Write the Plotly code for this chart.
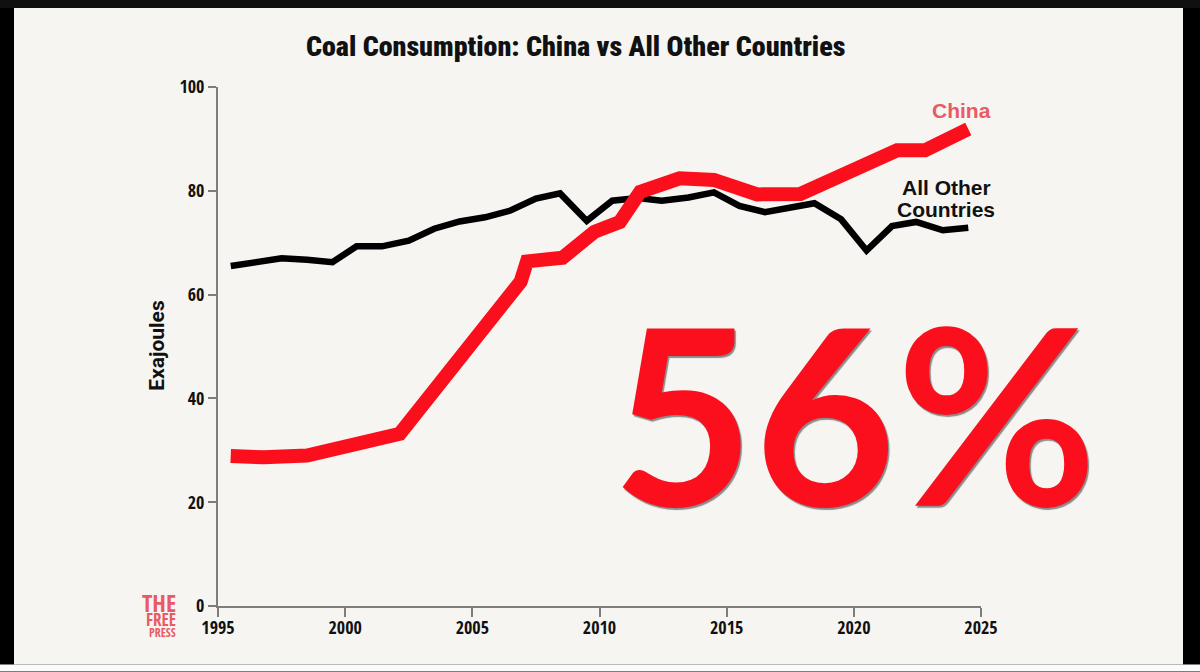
import plotly.graph_objects as go

W = 1200
H = 672
L, R, T, B = 218, 981, 87, 606.5

# values (exajoules)
other_years = [1995.5, 1996.5, 1997.5, 1998.5, 1999.5, 2000.45, 2001.45, 2002.5, 2003.5, 2004.5,
               2005.5, 2006.5, 2007.5, 2008.45, 2009.5, 2010.5, 2011.5, 2012.45, 2013.5, 2014.5,
               2015.5, 2016.5, 2017.5, 2018.45, 2019.5, 2020.5, 2021.5, 2022.45, 2023.5, 2024.5]
other_vals = [65.5, 66.4, 67.0, 66.7, 66.25, 69.3, 69.3, 70.4, 72.7, 74.1,
              74.9, 76.2, 78.5, 79.5, 74.2, 78.1, 78.6, 78.1, 78.7, 79.7,
              77.1, 75.9, 76.8, 77.6, 74.5, 68.5, 73.2, 74.0, 72.4, 72.9]

china_years = [1995.5, 1996.8, 1998.5, 1999.5, 2000.5, 2001.3, 2002.15, 2006.9, 2007.15, 2008.55,
               2009.8, 2010.8, 2011.6, 2013.15, 2014.5, 2016.2, 2017.9, 2021.7, 2022.8, 2024.5]
china_vals = [28.9, 28.65, 29.0, 30.0, 31.0, 32.0, 33.2, 62.5, 66.4, 67.1,
              72.1, 74.0, 79.8, 82.4, 82.1, 79.3, 79.4, 87.8, 87.8, 91.9]

x_ticks = [1995, 2000, 2005, 2010, 2015, 2020, 2025]
y_ticks = [0, 20, 40, 60, 80, 100]

BG = "#f6f5f1"
RED = "#fb0f1c"
PINK = "#ea5a64"
INK = "#111111"
AXIS = "#7d7d7a"
CONDENSED = "Open Sans Condensed"
TITLE_FONT = "Roboto Condensed"


def px(x):
    return (x - L) / (R - L)


def py(y):
    return (B - y) / (B - T)


def label(text, x, y, size, color=INK, font=CONDENSED, anchor="center", weight=700, angle=0, shadow=None):
    fig.add_annotation(text=text, x=px(x), y=py(y), xref="paper", yref="paper", showarrow=False,
                       xanchor=anchor, yanchor="middle", textangle=angle,
                       font=dict(family=font, size=size, color=color, weight=weight, shadow=shadow))


fig = go.Figure()

fig.add_trace(go.Scatter(x=other_years, y=other_vals, mode="lines", name="All Other Countries",
                         line=dict(color="#000000", width=6.5)))
fig.add_trace(go.Scatter(x=china_years, y=china_vals, mode="lines", name="China",
                         line=dict(color=RED, width=14)))

# card behind the chart, it's a screenshot of a video frame
fig.add_shape(type="rect", xref="paper", yref="paper", layer="below", line_width=0, fillcolor="#101010",
              x0=px(0), x1=px(W), y0=py(0), y1=py(8))
fig.add_shape(type="rect", xref="paper", yref="paper", layer="below", line_width=0, fillcolor=BG,
              x0=px(14), x1=px(1183), y0=py(8), y1=py(665))
fig.add_shape(type="rect", xref="paper", yref="paper", layer="below", line_width=0, fillcolor="#fbfbfb",
              x0=px(0), x1=px(W), y0=py(665), y1=py(H))

label("Coal Consumption: China vs All Other Countries", 575, 46, 28, font=TITLE_FONT, weight=900)
label("Exajoules", 157, 346, 21, font="Roboto", angle=-90)
label("China", 961, 111, 21, color=PINK, font="Liberation Sans")
label("All Other", 946, 188, 21, font="Liberation Sans")
label("Countries", 946, 210, 21, font="Liberation Sans")

label("56%", 854, 411, 245, color=RED, font="Lato", weight=700, shadow="1.5px 1.5px 1px #8a8a8a")

label("THE", 178, 603, 24, color=PINK, anchor="right")
label("FREE", 178, 620, 17, color=PINK, anchor="right")
label("PRESS", 178, 633, 12, color=PINK, anchor="right")

fig.update_xaxes(range=[1995, 2025], tickvals=x_ticks, ticks="outside", ticklen=9, tickwidth=1.5,
                 tickcolor=AXIS, showline=True, linecolor=AXIS, linewidth=2, showgrid=False, zeroline=False,
                 ticklabelstandoff=-5,
                 tickfont=dict(family=CONDENSED, size=18, color=INK, weight=700))
fig.update_yaxes(range=[0, 100], tickvals=y_ticks, ticks="outside", ticklen=8, tickwidth=1.5,
                 tickcolor=AXIS, showline=True, linecolor=AXIS, linewidth=2, showgrid=False, zeroline=False,
                 tickfont=dict(family=CONDENSED, size=18, color=INK, weight=700))

fig.update_layout(width=W, height=H, autosize=False, showlegend=False,
                  paper_bgcolor="#000000", plot_bgcolor="rgba(0,0,0,0)",
                  margin=dict(l=L, r=W - R, t=T, b=H - B, pad=0))

# no page margin, sharp corners on the red line like the original
fig.write_html("out.html", config={"displayModeBar": False}, post_script="""
document.body.style.margin = '0';
var lines = document.querySelectorAll('.js-line');
lines[lines.length - 1].style.strokeMiterlimit = '10';
""")
